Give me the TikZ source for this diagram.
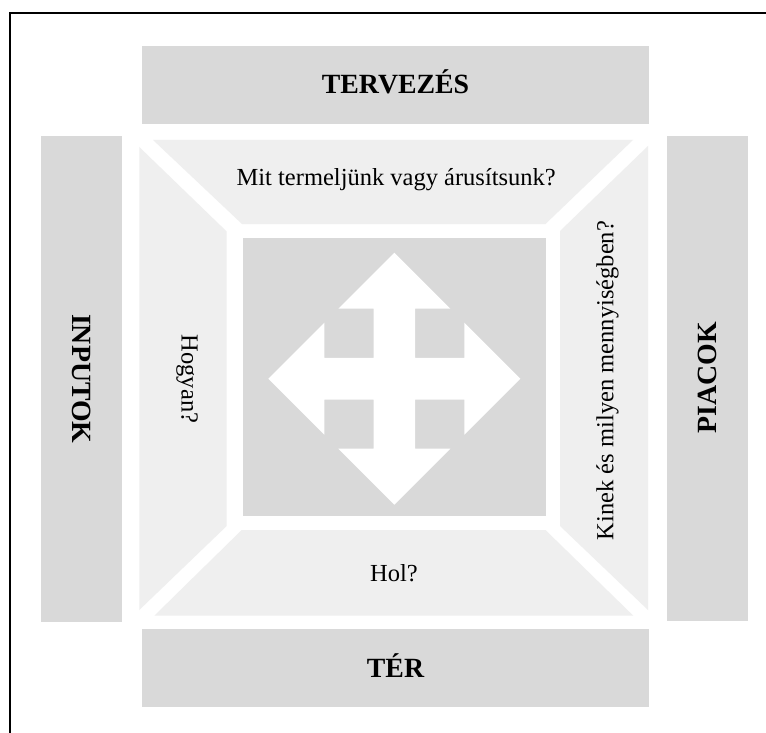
\documentclass[tikz,border=0pt]{standalone}
\usepackage{fontspec}
\setmainfont{Liberation Serif}
\begin{document}
\begin{tikzpicture}[x=1pt,y=-1pt,
  dark/.style={fill={rgb,255:red,217;green,217;blue,217}},
  light/.style={fill={rgb,255:red,239;green,239;blue,239}},
  boldlabel/.style={font=\fontsize{27.8}{30}\selectfont\bfseries, text=black, inner sep=0pt, anchor=base},
  question/.style={font=\fontsize{24.5}{27}\selectfont, text=black, inner sep=0pt, anchor=base}]
\useasboundingbox (0,0) rectangle (766,733);
\fill[white] (0,0) rectangle (766,733);
% frame (only left and top edges are visible)
\draw[line width=2pt, line join=miter] (10.3,733) -- (10.3,13) -- (766,13);
% outer bars
\fill[dark] (141.7,45.7) rectangle (649.3,124.3);
\fill[dark] (141.7,628.7) rectangle (649.3,707);
\fill[dark] (40.7,135.7) rectangle (122,622);
\fill[dark] (666.7,135.7) rectangle (747.7,621);
% trapezoids
\fill[light] (153,140) -- (633,140) -- (545.5,224) -- (242,224) -- cycle;
\fill[light] (139.3,147) -- (226.7,231.5) -- (226.7,526) -- (139.3,610) -- cycle;
\fill[light] (648,146) -- (560,231) -- (560,526) -- (648,610) -- cycle;
\fill[light] (154.3,615.7) -- (241.7,530) -- (545.5,530) -- (633.3,615.7) -- cycle;
% inner square
\fill[dark] (242.7,238.3) rectangle (545.5,516);
% four-way arrow
\begin{scope}[shift={(394.3,378.7)}]
\fill[white] (0,-126) -- (56,-70) -- (20.8,-70) -- (20.8,-20.8) -- (70,-20.8) -- (70,-56)
  -- (126,0) -- (70,56) -- (70,20.8) -- (20.8,20.8) -- (20.8,70) -- (56,70)
  -- (0,126) -- (-56,70) -- (-20.8,70) -- (-20.8,20.8) -- (-70,20.8) -- (-70,56)
  -- (-126,0) -- (-70,-56) -- (-70,-20.8) -- (-20.8,-20.8) -- (-20.8,-70) -- (-56,-70) -- cycle;
\end{scope}
% labels
\node[boldlabel] (tervezes) at (395.5,93.3) {TERVEZÉS};
\node[boldlabel] (ter) at (395.5,677) {TÉR};
\node[boldlabel, rotate=-90] (inputok) at (72.2,378.8) {INPUTOK};
\node[boldlabel, rotate=90] (piacok) at (716.4,377.8) {PIACOK};
\node[question] (mit) at (396.2,185.7) {Mit termeljünk vagy árusítsunk?};
\node[question, rotate=-90] (hogyan) at (181.7,379) {Hogyan?};
\node[question, rotate=90] (kinek) at (613.3,380.5) {Kinek és milyen mennyiségben?};
\node[question] (hol) at (394,581.7) {Hol?};
\end{tikzpicture}
\end{document}
